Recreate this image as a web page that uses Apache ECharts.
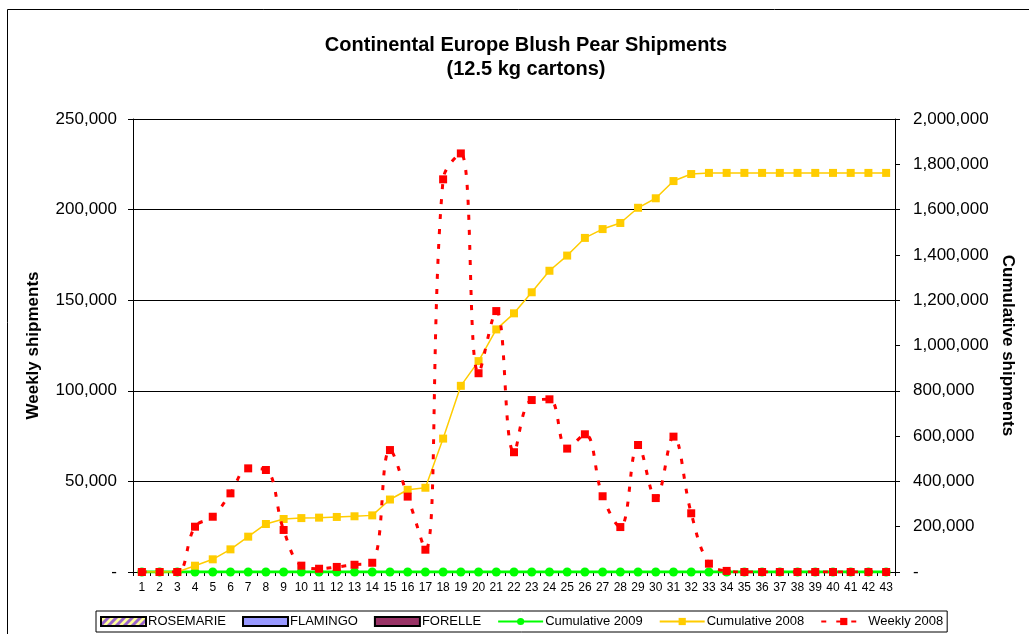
<!DOCTYPE html>
<html>
<head>
<meta charset="utf-8">
<script src="https://cdn.jsdelivr.net/npm/echarts@6/dist/echarts.min.js"></script>
<style>
html,body{margin:0;padding:0;background:#fff;}
#chart{width:1029px;height:634px;}
</style>
</head>
<body>
<div id="chart"></div>
<script>
const weeks = ['1','2','3','4','5','6','7','8','9','10','11','12','13','14','15','16','17','18','19','20','21','22','23','24','25','26','27','28','29','30','31','32','33','34','35','36','37','38','39','40','41','42','43'];
const rosemarie = [];
const flamingo = [];
const forelle = [];
const cumulative2009 = [0,0,0,0,0,0,0,0,0,0,0,0,0,0,0,0,0,0,0,0,0,0,0,0,0,0,0,0,0,0,0,0,0,0,0,0,0,0,0,0,0,0,0];
const cumulative2008 = [0,0,0,27800,56000,100000,156000,212000,234000,238000,240000,243000,246000,250000,320000,363000,372000,589000,822000,931000,1071000,1142000,1235000,1330000,1397000,1475000,1514000,1541000,1608000,1650000,1726000,1757000,1762000,1762000,1762000,1762000,1762000,1762000,1762000,1762000,1762000,1762000,1762000];
const weekly2008 = [0,0,0,25000,30500,43400,57200,56300,23200,3500,1800,2800,4000,5100,67300,41600,12300,216700,231000,109700,144000,66100,94900,95300,68100,76000,41800,24800,70100,40800,74700,32400,4600,600,0,0,0,0,0,0,0,0,0];
const leftTicks = {min:0, max:250000, interval:50000};
const rightTicks = {min:0, max:2000000, interval:200000};

function stripes(){
  const c = document.createElement('canvas');
  c.width = 8; c.height = 8;
  const g = c.getContext('2d');
  g.fillStyle = '#FFFF99'; g.fillRect(0,0,8,8);
  g.strokeStyle = '#9966CC'; g.lineWidth = 3;
  g.beginPath();
  g.moveTo(-2,10); g.lineTo(10,-2);
  g.moveTo(-6,6); g.lineTo(6,-6);
  g.moveTo(2,14); g.lineTo(14,2);
  g.stroke();
  return c;
}

const fmt = v => v === 0 ? '-' : v.toLocaleString('en-US');
const font = 'Liberation Sans, Arial, sans-serif';

const chart = echarts.init(document.getElementById('chart'), null, {renderer:'canvas'});
chart.setOption({
  backgroundColor:'#fff',
  animation:false,
  textStyle:{fontFamily:font, color:'#000'},
  title:{
    text:'Continental Europe Blush Pear Shipments\n(12.5 kg cartons)',
    left:521, top:28, textAlign:'center',
    textStyle:{fontFamily:font, fontSize:20, fontWeight:'bold', color:'#000', lineHeight:24}
  },
  graphic:[{
    type:'rect', shape:{x:7.5,y:9.5,width:1200,height:800},
    style:{fill:null, stroke:'#000', lineWidth:1}, silent:true, z:-1
  }],
  legend:{
    bottom:2, left:96,
    itemWidth:45, itemHeight:9, itemGap:16,
    padding:[4,4],
    borderColor:'#000', borderWidth:1, borderRadius:0,
    backgroundColor:'#fff',
    textStyle:{fontFamily:font, fontSize:13, color:'#000', padding:[0,0,0,-3]},
    data:[
      {name:'ROSEMARIE', icon:'rect'},
      {name:'FLAMINGO', icon:'rect'},
      {name:'FORELLE', icon:'rect'},
      'Cumulative 2009','Cumulative 2008','Weekly 2008'
    ]
  },
  grid:{left:133, right:134, top:119, bottom:62, containLabel:false},
  xAxis:{
    type:'category', data:weeks, boundaryGap:true,
    axisLine:{lineStyle:{color:'#000', width:1}},
    axisTick:{show:true, length:4, lineStyle:{color:'#000'}},
    axisLabel:{interval:0, fontSize:12, color:'#000', margin:10, fontFamily:font}
  },
  yAxis:[{
    type:'value', min:leftTicks.min, max:leftTicks.max, interval:leftTicks.interval,
    name:'Weekly shipments', nameLocation:'middle', nameGap:91,
    nameTextStyle:{fontFamily:font, fontSize:17, fontWeight:'bold', color:'#000'},
    axisLine:{show:true, lineStyle:{color:'#000', width:1}},
    axisTick:{show:true, length:5, lineStyle:{color:'#000'}},
    axisLabel:{formatter:fmt, fontSize:17, color:'#000', margin:16, fontFamily:font},
    splitLine:{show:true, lineStyle:{color:'#000', width:1}}
  },{
    type:'value', min:rightTicks.min, max:rightTicks.max, interval:rightTicks.interval,
    name:'Cumulative shipments', nameLocation:'middle', nameGap:104, nameRotate:-90,
    nameTextStyle:{fontFamily:font, fontSize:17, fontWeight:'bold', color:'#000'},
    axisLine:{show:true, lineStyle:{color:'#000', width:1}},
    axisTick:{show:true, length:5, lineStyle:{color:'#000'}},
    axisLabel:{formatter:fmt, fontSize:17, color:'#000', margin:18, fontFamily:font},
    splitLine:{show:false}
  }],
  series:[
    {name:'ROSEMARIE', type:'bar', yAxisIndex:0, data:rosemarie,
     itemStyle:{color:{image:stripes(), repeat:'repeat'}, borderColor:'#000', borderWidth:1}},
    {name:'FLAMINGO', type:'bar', yAxisIndex:0, data:flamingo,
     itemStyle:{color:'#9999FF', borderColor:'#000', borderWidth:1}},
    {name:'FORELLE', type:'bar', yAxisIndex:0, data:forelle,
     itemStyle:{color:'#993366', borderColor:'#000', borderWidth:1}},
    {name:'Cumulative 2009', type:'line', yAxisIndex:1, data:cumulative2009,
     symbol:'circle', symbolSize:9, lineStyle:{color:'#00FF00', width:3},
     itemStyle:{color:'#00FF00'}, z:3},
    {name:'Cumulative 2008', type:'line', yAxisIndex:1, data:cumulative2008,
     symbol:'rect', symbolSize:8, lineStyle:{color:'#FFCC00', width:1.5},
     itemStyle:{color:'#FFCC00'}, z:4},
    {name:'Weekly 2008', type:'line', yAxisIndex:0, data:weekly2008, smooth:0.4,
     symbol:'rect', symbolSize:8, lineStyle:{color:'#FF0000', width:3, type:[5,10]},
     itemStyle:{color:'#FF0000'}, z:5}
  ]
});
</script>
</body>
</html>
